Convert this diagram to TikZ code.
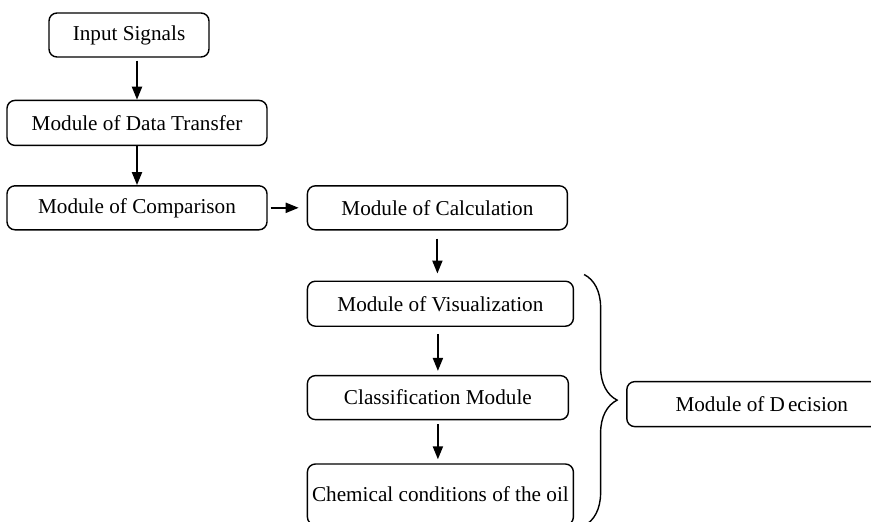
\documentclass[tikz,border=0pt]{standalone}
\usepackage{fontspec}
\setmainfont{Liberation Serif}
\usepackage{tikz}
\usetikzlibrary{decorations.pathreplacing,calc}
\usetikzlibrary{arrows.meta, positioning}
\tikzset{
  module/.style={
    draw,
    rectangle,
    rounded corners=4pt,
    minimum height=22pt,
    minimum width=130pt,
    inner sep=0pt,
    align=center,
    line width=0.7pt,
    font=\fontsize{10.6}{12.7}\selectfont,
  },
  arrow/.style={
    -{Triangle[length=6.5pt,width=5pt]},
    line width=1pt
  }
}
\begin{document}
\begin{tikzpicture}[x=0.5pt, y=-0.5pt]
  \path[use as bounding box, clip] (0,0) rectangle (871,521);

  % Modules
  \node[module, minimum width=80pt] (sig) at (129,35) {Input Signals};
  \node[module, minimum height=22.5pt, below=21pt of sig, xshift=4pt] (dt) {Module of Data Transfer};
  \node[module, below=19.5pt of dt] (cmp) {Module of Comparison};
  \node[module, right=19.5pt of cmp] (calc) {Module of Calculation};
  \node[module, minimum width=133pt, minimum height=22.5pt, below=25pt of calc, xshift=1.5pt] (vis) {Module of Visualization};
  \node[module, minimum width=130.5pt, below=24pt of vis, xshift=-1.25pt] (cls) {Classification Module};
  \node[module, minimum width=133pt, minimum height=30.5pt, below=21.5pt of cls, xshift=1.25pt] (chem) {Chemical conditions of the oil};
  \node[module, minimum width=135pt, minimum height=22.5pt, right=28.5pt of cls, yshift=-3.25pt] (dec) {Module of D\kern1.5pt ecision};

  % Fleches
  \draw[arrow, shorten <=1.5pt] (sig.south -| dt.north) -- (dt.north);
  \draw[arrow] (dt.south) -- (cmp.north);
  \draw[arrow, shorten <=1.5pt, shorten >=4pt] (cmp.east) -- (calc.west);
  \draw[arrow, shorten <=4pt, shorten >=3.5pt] (calc.south) -- (calc.south |- vis.north);
  \draw[arrow, shorten <=3.5pt, shorten >=2pt] (cls.north |- vis.south) -- (cls.north);
  \draw[arrow, shorten <=2pt, shorten >=2pt] (cls.south) -- (cls.south |- chem.north);

  % Accolade
  \draw[
    decorate,
    decoration={brace, amplitude=16.5pt},
    line width=0.7pt
  ]
    ([xshift=5pt, yshift=3pt]vis.north east) -- ([xshift=5pt]chem.south east);
\end{tikzpicture}
\end{document}
